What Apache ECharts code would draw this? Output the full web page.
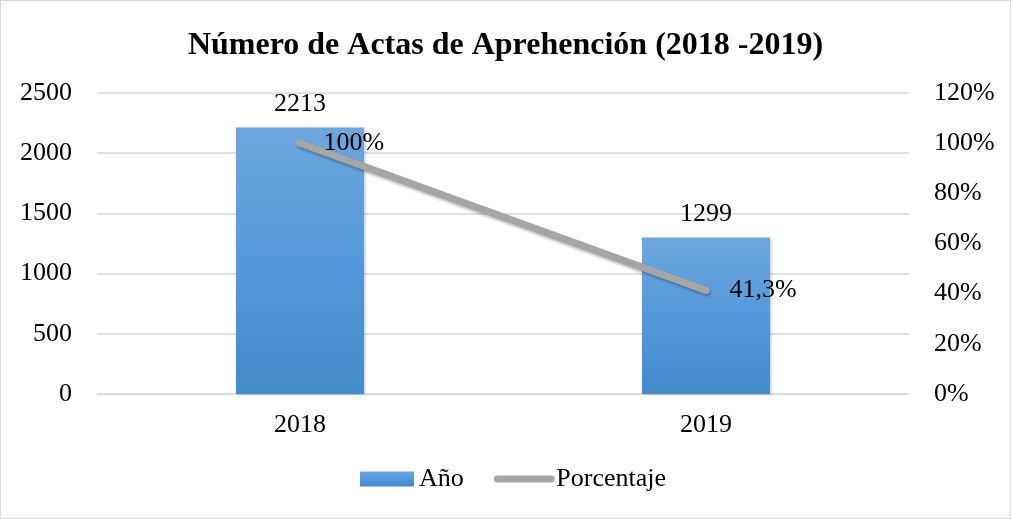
<!DOCTYPE html>
<html>
<head>
<meta charset="utf-8">
<script src="https://cdn.jsdelivr.net/npm/echarts@6/dist/echarts.min.js"></script>
<style>
  html, body { margin: 0; padding: 0; background: #fff; }
  #chart { width: 1011px; height: 519px; box-sizing: border-box; border: 1px solid #d9d9d9; }
</style>
</head>
<body>
<div id="chart"></div>
<script>
// datos del gráfico
const years = ['2018', '2019']
const actas = [2213, 1299]
const porcentaje = [100, 41.3]
const titulo = 'Número de Actas de Aprehención (2018 -2019)'

const serif = '"Liberation Serif", "DejaVu Serif", serif'
const chart = echarts.init(document.getElementById('chart'))

const option = {
  animation: false,
  textStyle: { fontFamily: serif },
  title: {
    text: titulo,
    left: 'center',
    top: 24,
    textStyle: { fontFamily: serif, fontSize: 32, fontWeight: 'bold', color: '#000' }
  },
  legend: {
    bottom: 21,
    left: 354,
    itemGap: 30,
    itemWidth: 54,
    itemHeight: 15,
    textStyle: { fontFamily: serif, fontSize: 26, color: '#000' },
    data: [
      { name: 'Año', icon: 'rect' },
      { name: 'Porcentaje', itemStyle: { opacity: 0 }, lineStyle: { width: 7, cap: 'round' } }
    ]
  },
  grid: { left: 96, right: 101, top: 92, bottom: 124 },
  xAxis: {
    type: 'category',
    data: years,
    axisTick: { show: false },
    axisLine: { lineStyle: { color: '#d9d9d9' } },
    axisLabel: { color: '#000', fontSize: 26, fontFamily: serif, margin: 18 }
  },
  yAxis: [
    {
      type: 'value',
      min: 0, max: 2500, interval: 500,
      axisLabel: { color: '#000', fontSize: 26, fontFamily: serif, margin: 25, formatter: v => String(v) },
      splitLine: { lineStyle: { color: '#d9d9d9', width: 1.5 } }
    },
    {
      type: 'value',
      min: 0, max: 120, interval: 20,
      axisLabel: { color: '#000', fontSize: 26, fontFamily: serif, margin: 25, formatter: '{value}%' },
      splitLine: { show: false }
    }
  ],
  series: [
    {
      name: 'Año',
      type: 'bar',
      data: actas,
      barWidth: 128,
      itemStyle: {
        color: new echarts.graphic.LinearGradient(0, 0, 0, 1, [
          { offset: 0, color: '#6ea6dc' },
          { offset: 0.5, color: '#5499dc' },
          { offset: 1, color: '#438bc9' }
        ]),
        shadowColor: 'rgba(0,0,0,0.25)',
        shadowBlur: 3,
        shadowOffsetX: 1,
        shadowOffsetY: 1
      },
      label: {
        show: true,
        position: 'top',
        distance: 10,
        color: '#000',
        fontSize: 26,
        fontFamily: serif
      }
    },
    {
      name: 'Porcentaje',
      type: 'line',
      yAxisIndex: 1,
      data: porcentaje,
      symbol: 'circle',
      symbolSize: 7,
      lineStyle: {
        color: '#a5a5a5',
        width: 7,
        cap: 'round',
        shadowColor: 'rgba(0,0,0,0.3)',
        shadowBlur: 3,
        shadowOffsetX: 1,
        shadowOffsetY: 2
      },
      itemStyle: { color: '#a5a5a5' },
      label: {
        show: true,
        position: 'right',
        distance: 20,
        color: '#000',
        fontSize: 26,
        fontFamily: serif,
        formatter: p => String(p.value).replace('.', ',') + '%'
      }
    }
  ]
}

chart.setOption(option)
</script>
</body>
</html>
